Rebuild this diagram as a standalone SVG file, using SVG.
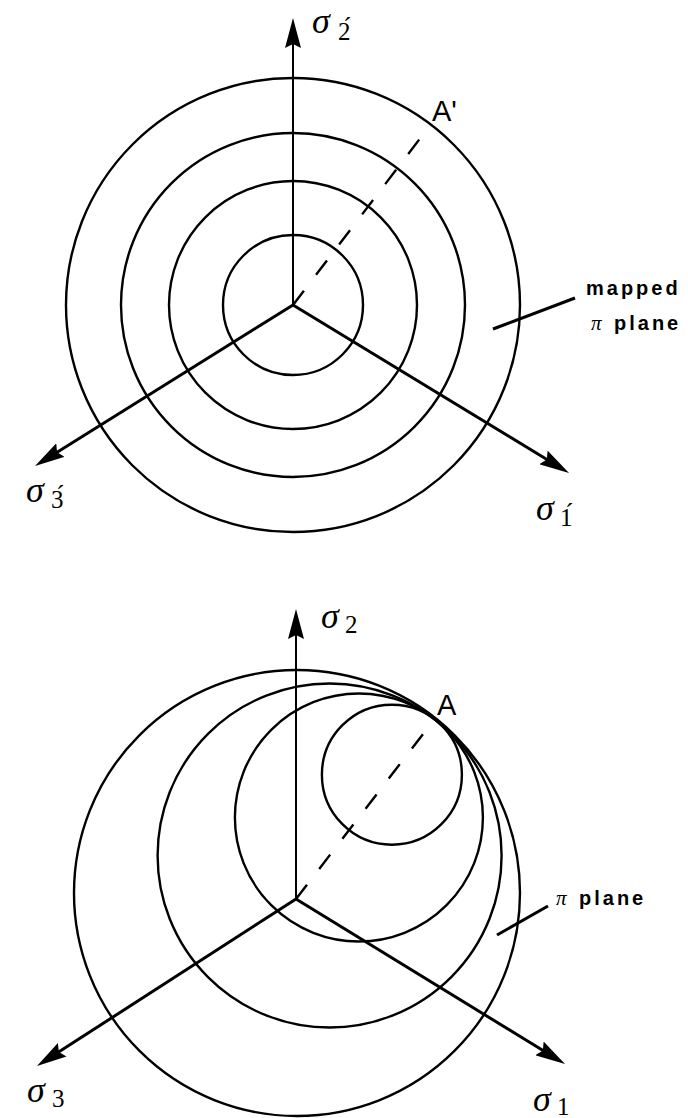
<svg xmlns="http://www.w3.org/2000/svg" width="688" height="1118" viewBox="0 0 688 1118">
<style>
.c{fill:none;stroke:#000;stroke-width:2.4}
.ax{stroke:#000;stroke-width:3;fill:none}
.vx{stroke:#000;stroke-width:2;fill:none}
.d{stroke:#000;stroke-width:2.4;stroke-dasharray:18 20;fill:none}
.ld{stroke:#000;stroke-width:3}
.s{font-family:"Liberation Serif","DejaVu Serif",serif;font-style:italic;font-size:36px}
.sub{font-style:normal;font-size:25px}
.lab{font-family:"Liberation Sans","DejaVu Sans",sans-serif;font-size:29px}
.note{font-family:"Liberation Sans","DejaVu Sans",sans-serif;font-size:20px;font-weight:bold;letter-spacing:3px}
.pi{font-family:"Liberation Serif","DejaVu Serif",serif;font-style:italic;font-weight:normal;font-size:21px;letter-spacing:0}
</style>
<defs>
<marker id="ah" markerWidth="32" markerHeight="16" refX="20" refY="8" orient="auto" markerUnits="userSpaceOnUse">
<path d="M0,0 L30,8 L0,16 L4,8 z" fill="#000"/>
</marker>
</defs>

<g id="connectors">
<line class="vx" x1="293" y1="305" x2="293" y2="28" marker-end="url(#ah)"/>
<line class="ax" x1="293" y1="305" x2="43.5" y2="460.7" marker-end="url(#ah)"/>
<line class="ax" x1="293" y1="305" x2="560.5" y2="467.8" marker-end="url(#ah)"/>
<line class="d" x1="293" y1="305" x2="428" y2="128"/>
<line class="ld" x1="493" y1="329" x2="575" y2="298"/>
<line class="vx" x1="296" y1="899" x2="296" y2="619" marker-end="url(#ah)"/>
<line class="ax" x1="296" y1="899" x2="45.4" y2="1060.6" marker-end="url(#ah)"/>
<line class="ax" x1="296" y1="899" x2="556.5" y2="1058.8" marker-end="url(#ah)"/>
<line class="d" x1="296" y1="899" x2="430" y2="725"/>
<line class="ld" x1="497" y1="935" x2="548" y2="906"/>
</g>

<g id="top-circles">
<circle class="c" cx="293" cy="305" r="70"/>
<circle class="c" cx="293" cy="305" r="124"/>
<circle class="c" cx="293" cy="305" r="172"/>
<circle class="c" cx="293" cy="305" r="227"/>
</g>

<g id="bottom-circles">
<circle class="c" cx="391.9" cy="774.7" r="70"/>
<circle class="c" cx="358.9" cy="817.5" r="124"/>
<circle class="c" cx="329.6" cy="855.5" r="172"/>
<circle class="c" cx="297" cy="893" r="223"/>
</g>

<g id="label-s2p"><text class="s" x="312" y="33">σ<tspan class="sub" x="338" y="40">2́</tspan></text></g>
<g id="label-s3p"><text class="s" x="26" y="502">σ<tspan class="sub" x="51" y="508">3́</tspan></text></g>
<g id="label-s1p"><text class="s" x="536" y="520">σ<tspan class="sub" x="560" y="526">1́</tspan></text></g>
<g id="label-Ap"><text class="lab" x="432" y="121">A'</text></g>
<g id="label-mapped"><text class="note" x="586" y="295">mapped</text><text class="note" x="614" y="330"><tspan class="pi" x="591">π</tspan><tspan x="614">plane</tspan></text></g>

<g id="label-s2"><text class="s" x="321" y="628">σ<tspan class="sub" x="345" y="633">2</tspan></text></g>
<g id="label-s3"><text class="s" x="27" y="1102">σ<tspan class="sub" x="52" y="1107">3</tspan></text></g>
<g id="label-s1"><text class="s" x="533" y="1111">σ<tspan class="sub" x="557" y="1115">1</tspan></text></g>
<g id="label-A"><text class="lab" x="437" y="715">A</text></g>
<g id="label-pi"><text class="note" x="579" y="905"><tspan class="pi" x="556">π</tspan><tspan x="579">plane</tspan></text></g>
</svg>
